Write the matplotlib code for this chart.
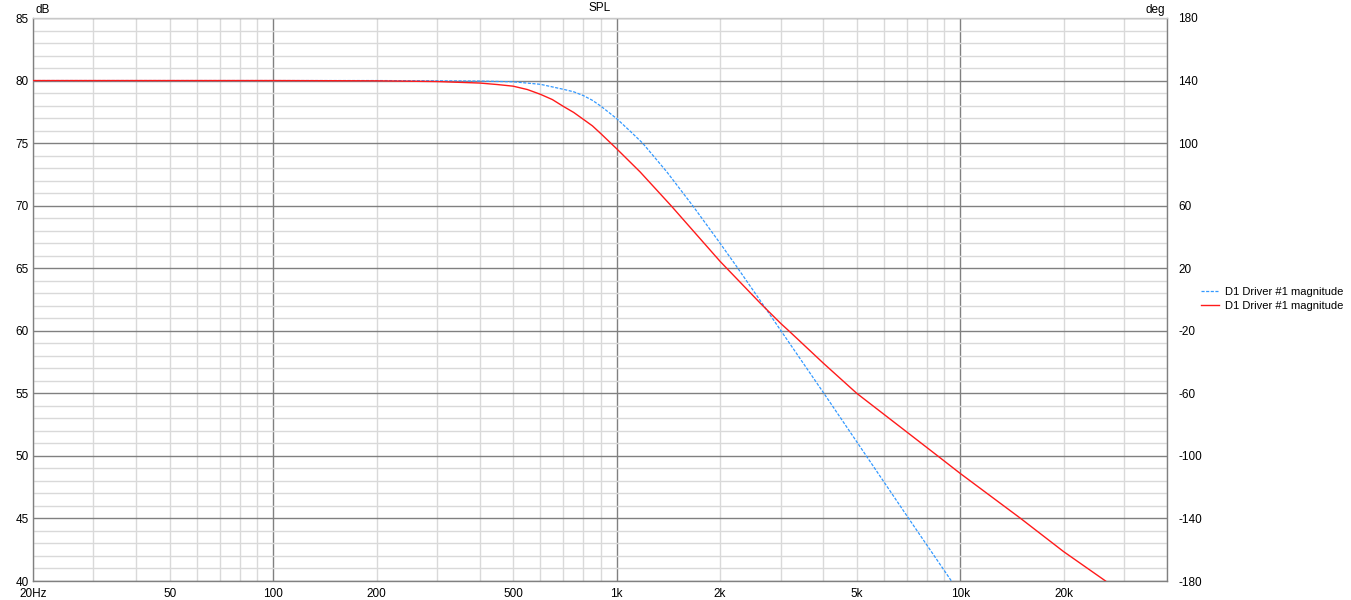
import matplotlib
matplotlib.use('Agg')
import matplotlib.pyplot as plt
import numpy as np
from matplotlib.ticker import FixedLocator, NullFormatter

plt.rcParams['font.family'] = ['Liberation Sans', 'DejaVu Sans']
plt.rcParams['font.size'] = 8

# ------------------------------------------------------------------
# Dados
# ------------------------------------------------------------------
# curva azul (tracejada)
f_blue = [20, 100, 200, 300, 400, 500, 600, 700, 750, 800, 850, 900, 1000,
          1100, 1190, 1400, 1670, 2000, 2220, 2620, 3000, 4000, 5270, 7000,
          9430]
spl_blue = [80.0, 80.0, 80.0, 79.98, 79.96, 79.9, 79.7, 79.3, 79.1, 78.8,
            78.42, 77.95, 76.96, 75.9, 75.0, 72.7, 69.95, 67.0, 65.25, 62.4,
            60.05, 55.05, 50.2, 45.2, 40.0]

# curva vermelha (solida)
f_red = [20, 100, 200, 300, 400, 450, 500, 550, 600, 650, 700, 750, 800, 850,
         900, 1000, 1170, 1440, 2000, 2620, 3000, 3170, 4000, 5000, 7000,
         8600, 10000, 15000, 20000, 26500]
spl_red = [80.0, 80.0, 79.98, 79.92, 79.8, 79.68, 79.55, 79.28, 78.9, 78.48,
           77.93, 77.45, 76.9, 76.38, 75.75, 74.55, 72.7, 70.0, 65.55, 62.2,
           60.6, 60.0, 57.4, 55.0, 51.9, 50.0, 48.6, 45.0, 42.35, 40.0]

legend_labels = ['D1 Driver #1 magnitude', 'D1 Driver #1 magnitude']

x_ticks = [20, 50, 100, 200, 500, 1000, 2000, 5000, 10000, 20000]
x_tick_labels = ['20Hz', '50', '100', '200', '500', '1k', '2k', '5k', '10k', '20k']
db_ticks = [40, 45, 50, 55, 60, 65, 70, 75, 80, 85]
deg_ticks = [-180, -140, -100, -60, -20, 20, 60, 100, 140, 180]

# ------------------------------------------------------------------
# Figura
# ------------------------------------------------------------------
fig = plt.figure(figsize=(13.51, 6.0), dpi=100)
ax = fig.add_axes([33 / 1351, 19 / 600, (1167 - 33) / 1351, (581 - 18) / 600])

major_c = '#808080'
minor_c = '#d9d9d9'

l1, = ax.plot(f_blue, spl_blue, color='#3399ff', lw=0.9, ls=(0, (2.5, 1.2)),
              label=legend_labels[0], zorder=3)
l2, = ax.plot(f_red, spl_red, color='#ff1a1a', lw=1.0, label=legend_labels[1],
              zorder=4)

ax.set_xscale('log')
ax.set_xlim(20, 40000)
ax.set_ylim(40, 85)

ax.xaxis.set_major_locator(FixedLocator([100, 1000, 10000]))
minors = [m * d for d in [10, 100, 1000, 10000] for m in range(2, 10)]
ax.xaxis.set_minor_locator(FixedLocator([v for v in minors if 20 <= v <= 40000]))
ax.xaxis.set_major_formatter(NullFormatter())
ax.xaxis.set_minor_formatter(NullFormatter())
ax.yaxis.set_major_locator(FixedLocator(db_ticks))
ax.yaxis.set_minor_locator(FixedLocator(np.arange(40, 86, 1)))
ax.grid(which='minor', color=minor_c, lw=1.0, zorder=0)
ax.grid(which='major', color=major_c, lw=1.0, zorder=1)
ax.set_axisbelow(True)
ax.tick_params(which='both', length=0)
ax.set_yticklabels([str(t) for t in db_ticks])
ax.tick_params(axis='y', pad=3, labelsize=8.5)

for s in ax.spines.values():
    s.set_color(major_c)
    s.set_linewidth(1.0)
ax.spines['top'].set_color('#c8c8c8')

# rotulos do eixo x (centrados nas frequencias)
for xt, lab in zip(x_ticks, x_tick_labels):
    ax.text(xt, -0.012, lab, transform=ax.get_xaxis_transform(),
            ha='center', va='top', fontsize=8.5)

# eixo da direita em graus
ax2 = ax.twinx()
ax2.set_ylim(-180, 180)
ax2.yaxis.set_major_locator(FixedLocator(deg_ticks))
ax2.set_yticklabels([str(t) for t in deg_ticks])
ax2.tick_params(length=0, pad=8, labelsize=8.5)
for s in ax2.spines.values():
    s.set_visible(False)

fig.text(600 / 1351, 1 - 8 / 600, 'SPL', ha='center', va='center', fontsize=8.5)
fig.text(35 / 1351, 1 - 10 / 600, 'dB', ha='left', va='center', fontsize=8.5)
fig.text(1165 / 1351, 1 - 10 / 600, 'deg', ha='right', va='center', fontsize=8.5)

fig.legend(handles=[l1, l2], labels=legend_labels, loc='center left',
           bbox_to_anchor=(1201 / 1351, 1 - 299 / 600), frameon=False,
           fontsize=8, handlelength=1.6, handletextpad=0.55, labelspacing=0.3,
           borderaxespad=0, borderpad=0)

fig.savefig('out.png', dpi=100)
plt.close('all')
